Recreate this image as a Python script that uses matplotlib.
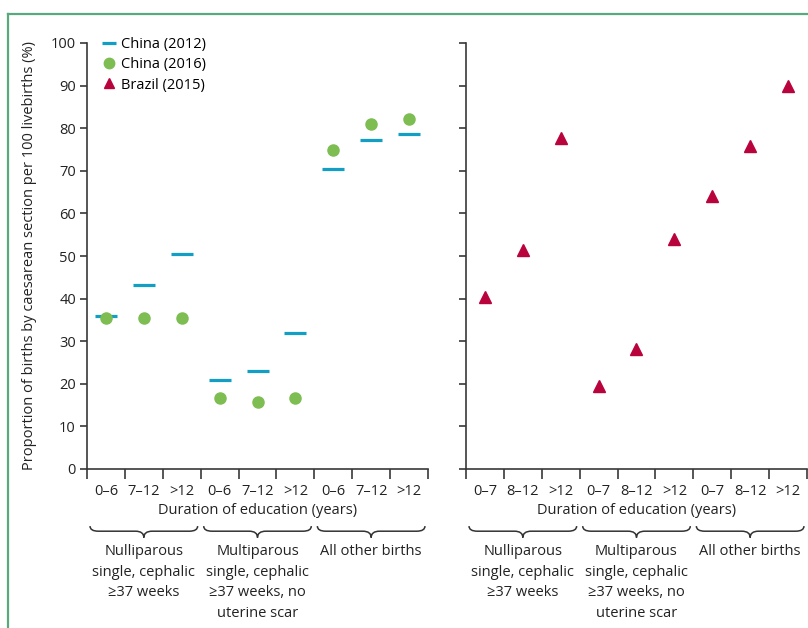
import matplotlib
matplotlib.use("Agg")
import matplotlib.pyplot as plt
from matplotlib.path import Path
from matplotlib.patches import PathPatch
from matplotlib.lines import Line2D
from matplotlib.transforms import blended_transform_factory

plt.rcParams['font.family'] = ['Open Sans', 'DejaVu Sans']
plt.rcParams['font.size'] = 10.5

# dados
china_labels = ['0–6', '7–12', '>12'] * 3
brazil_labels = ['0–7', '8–12', '>12'] * 3
grupos = ['Nulliparous\nsingle, cephalic\n≥37 weeks',
          'Multiparous\nsingle, cephalic\n≥37 weeks, no\nuterine scar',
          'All other births']
china_2012 = [36.0, 43.3, 50.5, 21.0, 23.0, 32.0, 70.5, 77.3, 78.7]
china_2016 = [35.5, 35.5, 35.5, 16.6, 15.7, 16.6, 74.8, 81.1, 82.1]
brazil_2015 = [40.4, 51.5, 77.8, 19.4, 28.2, 53.9, 64.0, 75.8, 89.8]

cor_2012 = '#139fc4'
cor_2016 = '#7dbd52'
cor_brasil = '#b8033d'
cor_eixo = '#383838'
cor_texto = '#222222'

fig = plt.figure(figsize=(8.08, 6.28), dpi=100)

# moldura verde
fig.add_artist(Line2D([8/808, 1], [1 - 14/628, 1 - 14/628], color='#5aa97e', lw=1.6))
fig.add_artist(Line2D([8/808, 8/808], [0, 1 - 14/628], color='#5aa97e', lw=1.6))

ax1 = fig.add_axes([87/808, 159/628, 341/808, 426/628])
ax2 = fig.add_axes([466/808, 159/628, 341/808, 426/628])

x = list(range(9))


def brace(ax, x0, x1):
    tr = blended_transform_factory(ax.transData, ax.transAxes)
    y_end, y_line, y_tip = -0.134, -0.146, -0.161
    xm = (x0 + x1) / 2
    d = 0.22
    verts = [(x0, y_end), (x0, y_line), (x0 + d, y_line),
             (xm - d, y_line),
             (xm, y_line), (xm, y_tip),
             (xm, y_line), (xm + d, y_line),
             (x1 - d, y_line),
             (x1, y_line), (x1, y_end)]
    codes = [Path.MOVETO, Path.CURVE3, Path.CURVE3,
             Path.LINETO,
             Path.CURVE3, Path.CURVE3,
             Path.CURVE3, Path.CURVE3,
             Path.LINETO,
             Path.CURVE3, Path.CURVE3]
    ax.add_patch(PathPatch(Path(verts, codes), transform=tr, fill=False,
                           edgecolor='#333333', lw=1.1, clip_on=False))


for ax, labels in [(ax1, china_labels), (ax2, brazil_labels)]:
    ax.set_xlim(-0.5, 8.5)
    ax.set_ylim(0, 100)
    ax.spines['top'].set_visible(False)
    ax.spines['right'].set_visible(False)
    for s in ['left', 'bottom']:
        ax.spines[s].set_color(cor_eixo)
        ax.spines[s].set_linewidth(1.2)
    ax.set_yticks(range(0, 101, 10))
    ax.set_xticks([i - 0.5 for i in range(10)])
    ax.set_xticklabels([])
    ax.set_xticks(x, minor=True)
    ax.set_xticklabels(labels, minor=True)
    ax.tick_params(axis='x', which='major', length=7, width=1.2, color=cor_eixo)
    ax.tick_params(axis='x', which='minor', length=0, pad=11, colors=cor_texto)
    ax.tick_params(axis='y', length=5, width=1.2, color=cor_eixo, labelcolor=cor_texto, pad=3)
    ax.text(0.5, -0.098, 'Duration of education (years)', transform=ax.transAxes,
            ha='center', va='center', color=cor_texto)
    for g in range(3):
        brace(ax, 3 * g - 0.42, 3 * g + 2.42)
        ax.text(3 * g + 1, -0.177, grupos[g], transform=blended_transform_factory(ax.transData, ax.transAxes),
                ha='center', va='top', linespacing=1.5, color=cor_texto)

ax2.set_yticklabels([])

ax1.plot(x, china_2012, linestyle='none', marker='_', markersize=16, mew=2.3, color=cor_2012)
ax1.plot(x, china_2016, linestyle='none', marker='o', markersize=8, color=cor_2016)
ax2.plot(x, brazil_2015, linestyle='none', marker='^', markersize=8.5, color=cor_brasil)

# legenda com simbolos proprios (traco mais curto, como no original)
handles = [Line2D([], [], linestyle='none', marker='_', markersize=10.5, mew=2.3, color=cor_2012),
           Line2D([], [], linestyle='none', marker='o', markersize=7.5, color=cor_2016),
           Line2D([], [], linestyle='none', marker='^', markersize=7.5, color=cor_brasil)]
ax1.legend(handles, ['China (2012)', 'China (2016)', 'Brazil (2015)'],
           loc='upper left', bbox_to_anchor=(0.045, 1.014), frameon=False, handlelength=0.9,
           handletextpad=0.4, labelspacing=0.36, borderpad=0, borderaxespad=0)

fig.text(30/808, 1 - 256/628, 'Proportion of births by caesarean section per 100 livebirths (%)',
         rotation=90, ha='center', va='center', color=cor_texto)

fig.savefig('out.png', dpi=100)
